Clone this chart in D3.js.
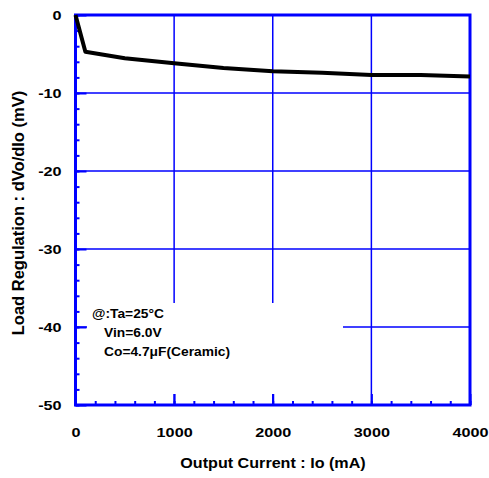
<!DOCTYPE html>
<html>
<head>
<meta charset="utf-8">
<script src="https://cdn.jsdelivr.net/npm/d3@7.9.0/dist/d3.min.js"></script>
<style>
  body { margin: 0; background: #fff; }
  text { font-family: "Liberation Sans", Arial, sans-serif; font-weight: bold; fill: #000; }
</style>
</head>
<body>
<svg id="chart" width="489" height="478"></svg>
<script>
// data
const current = [0, 100, 500, 1000, 1500, 2000, 2500, 3000, 3500, 4000];   // mA
const regulation = [0, -4.7, -5.55, -6.2, -6.8, -7.2, -7.4, -7.7, -7.7, -7.9]; // mV
const xTicks = [0, 1000, 2000, 3000, 4000];
const yTicks = [0, -10, -20, -30, -40, -50];
const notes = ["@:Ta=25°C", "Vin=6.0V", "Co=4.7μF(Ceramic)"];

const blue = "#0000ff";
const svg = d3.select('#chart');

const x = d3.scaleLinear().domain([0, 4000]).range([75.5, 470]);
const y = d3.scaleLinear().domain([0, -50]).range([15, 405]);

// grid
const grid = svg.append('g').attr('stroke', blue).attr('stroke-width', 1.5);
xTicks.slice(1, -1).forEach(v => {
    grid.append('line').attr('x1', x(v)).attr('x2', x(v)).attr('y1', y(0)).attr('y2', y(-50));
});
yTicks.slice(1, -1).forEach(v => {
    grid.append('line').attr('x1', x(0)).attr('x2', x(4000)).attr('y1', y(v)).attr('y2', y(v));
});

// white area behind the conditions text
svg.append('rect')
    .attr('x', 87).attr('y', 303).attr('width', 256).attr('height', 91)
    .attr('fill', '#fff');

// minor ticks
const yMinor = d3.axisLeft(y).tickValues(d3.range(0, -51, -2)).tickSize(-4).tickFormat('');
const xMinor = d3.axisBottom(x).tickValues(d3.range(0, 4001, 200)).tickSize(-4).tickFormat('');

svg.append('g').attr('transform', `translate(${x(0)},0)`).call(yMinor);
svg.append('g').attr('transform', `translate(0,${y(-50)})`).call(xMinor);

// major ticks + labels (plain hyphen for negatives)
const yAxis = d3.axisLeft(y).tickValues(yTicks).tickSize(-11).tickPadding(11.6).tickFormat(d => String(d));
const xAxis = d3.axisBottom(x).tickValues(xTicks).tickSize(-11).tickPadding(22.5).tickFormat(d => String(d));

const gy = svg.append('g').attr('transform', `translate(${x(0)},0)`).call(yAxis);
const gx = svg.append('g').attr('transform', `translate(0,${y(-50)})`).call(xAxis);

svg.selectAll('.tick line').attr('stroke', blue).attr('stroke-width', 2);
svg.selectAll('.domain').remove();
[gx, gy].forEach(g => {
    g.selectAll('text')
        .attr('font-family', '"Liberation Sans", Arial, sans-serif')
        .attr('font-weight', 'bold')
        .attr('font-size', 13.5)
        .attr('fill', '#000')
        .attr('transform', 'scale(1.2,1)');
});

// frame
svg.append('rect')
    .attr('x', x(0)).attr('y', y(0))
    .attr('width', x(4000) - x(0)).attr('height', y(-50) - y(0))
    .attr('fill', 'none').attr('stroke', blue).attr('stroke-width', 3);

// curve
const line = d3.line().x((d, i) => x(current[i])).y(d => y(d));
svg.append('path')
    .datum(regulation)
    .attr('d', line)
    .attr('fill', 'none')
    .attr('stroke', '#000')
    .attr('stroke-width', 4)
    .attr('stroke-linejoin', 'round');

// conditions
const noteX = [92, 104, 104];
const noteY = [318, 337, 356];
notes.forEach((t, i) => {
    svg.append('text')
        .attr('transform', `translate(${noteX[i]},${noteY[i]}) scale(1.15,1)`)
        .attr('font-size', 12)
        .text(t);
});

// axis titles
svg.append('text')
    .attr('transform', 'translate(273,468) scale(1.17,1)')
    .attr('text-anchor', 'middle')
    .attr('font-size', 13.8)
    .text('Output Current : Io (mA)');

svg.append('text')
    .attr('transform', 'translate(24,213) rotate(-90)')
    .attr('text-anchor', 'middle')
    .attr('font-size', 16.5)
    .text('Load Regulation : dVo/dIo (mV)');
</script>
</body>
</html>
